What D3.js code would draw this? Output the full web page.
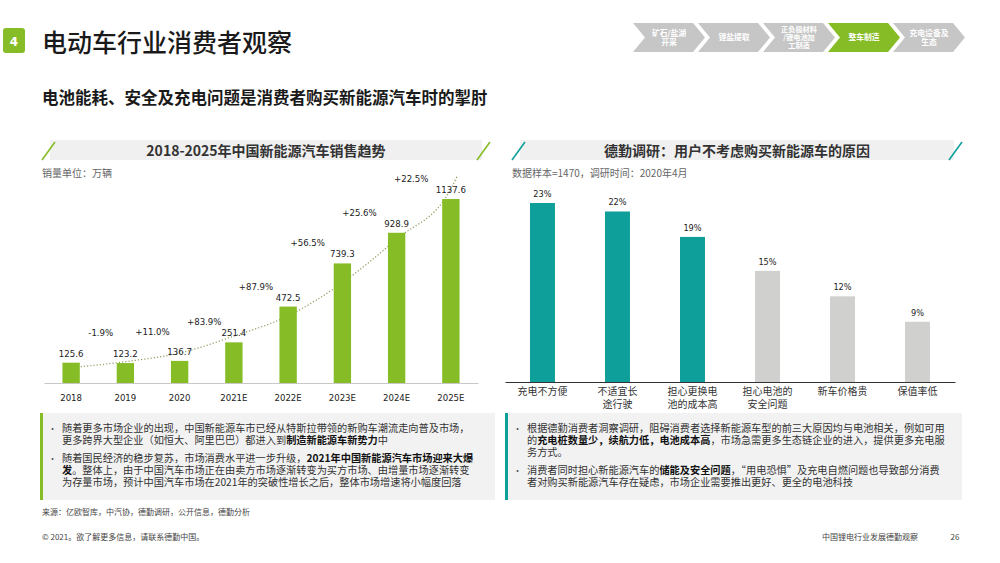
<!DOCTYPE html>
<html><head><meta charset="utf-8">
<script src="https://cdn.jsdelivr.net/npm/d3@7"></script>
<style>body{margin:0;background:#fff} svg{display:block}</style>
</head><body><svg id="c" width="1000" height="563"></svg>
<script>
// ---------- data ----------
const years = ["2018","2019","2020","2021E","2022E","2023E","2024E","2025E"];
const sales = [125.6,123.2,136.7,251.4,472.5,739.3,928.9,1137.6];
const growth = ["-1.9%","+11.0%","+83.9%","+87.9%","+56.5%","+25.6%","+22.5%"];
const trend = [95,132,185,290,415,620,890,1200];
const trendTail = 1275;
const reasons = [["充电不方便"],["不适宜长","途行驶"],["担心更换电","池的成本高"],["担心电池的","安全问题"],["新车价格贵"],["保值率低"]];
const shares = [23,22,19,15,12,9];
const highlighted = [true,true,true,false,false,false];
const steps = [["矿石/盐湖","开采"],["锂盐提取"],["正负极材料","/锂电池加","工制造"],["整车制造"],["充电设备及","生态"]];
const activeStep = 3;
const leftNotes = [
  [[["随着更多市场企业的出现，中国新能源车市已经从特斯拉带领的新购车潮流走向普及市场，",false]],
   [["更多跨界大型企业（如恒大、阿里巴巴）都进入到",false],["制造新能源车新势力",true],["中",false]]],
  [[["随着国民经济的稳步复苏，市场消费水平进一步升级，",false],["2021年中国新能源汽车市场迎来大爆",true]],
   [["发",true],["。整体上，由于中国汽车市场正在由卖方市场逐渐转变为买方市场、由增量市场逐渐转变",false]],
   [["为存量市场，预计中国汽车市场在2021年的突破性增长之后，整体市场增速将小幅度回落",false]]]
];
const rightNotes = [
  [[["根据德勤消费者洞察调研，阻碍消费者选择新能源车型的前三大原因均与电池相关，例如可用",false]],
   [["的",false],["充电桩数量少，续航力低，电池成本高",true],["，市场急需更多生态链企业的进入，提供更多充电服",false]],
   [["务方式。",false]]],
  [[["消费者同时担心新能源汽车的",false],["储能及安全问题",true],["，“用电恐惧”及充电自燃问题也导致部分消费",false]],
   [["者对购买新能源汽车存在疑虑，市场企业需要推出更好、更全的电池科技",false]]]
];

// ---------- style ----------
const CJK = "'Noto Sans CJK SC', 'Noto Sans', sans-serif";
const NUM = "'DejaVu Sans', Verdana, sans-serif";
const GREEN = "#86bc25", TEAL = "#0f9f9b", GREY = "#d0d0ce";

const svg = d3.select("#c");
svg.append("rect").attr("width",1000).attr("height",563).attr("fill","#fff");

// ---------- header ----------
svg.append("rect").attr("x",3).attr("y",28).attr("width",22).attr("height",25).attr("rx",3).attr("fill",GREEN);
svg.append("text").attr("x",14).attr("y",45.5).attr("text-anchor","middle").attr("fill","#fff")
  .attr("font-family",NUM).attr("font-size",12).attr("font-weight","bold").text("4");
svg.append("text").attr("x",42).attr("y",52).attr("font-family",CJK).attr("font-size",25)
  .attr("font-weight",500).attr("fill","#1a1a1a").text("电动车行业消费者观察");
svg.append("text").attr("x",42).attr("y",104).attr("font-family",CJK).attr("font-size",16.5)
  .attr("font-weight","bold").attr("fill","#1a1a1a").text("电池能耗、安全及充电问题是消费者购买新能源汽车时的掣肘");

// chevrons
const chev = svg.append("g");
steps.forEach((lines,i)=>{
  const x0 = 633 + 65*i, y0 = 23, h = 29, w = 72, d = 12;
  chev.append("path")
    .attr("d",`M${x0},${y0}L${x0+w-d},${y0}L${x0+w},${y0+h/2}L${x0+w-d},${y0+h}L${x0},${y0+h}L${x0+d},${y0+h/2}Z`)
    .attr("fill", i===activeStep ? GREEN : "#c6c6c6");
  const fs = lines.length>2 ? 7.2 : 7.8;
  const t = chev.append("text").attr("text-anchor","middle").attr("fill","#fff")
    .attr("font-family",CJK).attr("font-size",fs).attr("font-weight","bold");
  const lh = fs+0.8, cy = y0 + h/2 - (lines.length-1)*lh/2 + fs*0.36;
  lines.forEach((s,j)=> t.append("tspan").attr("x",x0+w/2).attr("y",cy+j*lh).text(s));
});

// ---------- panel titles ----------
function panelTitle(x0,x1,color,title,sub){
  svg.append("rect").attr("x",x0+8).attr("y",140).attr("width",x1-x0-16).attr("height",20).attr("fill","#f0f0f0");
  svg.append("line").attr("x1",x0).attr("y1",160).attr("x2",x0+13).attr("y2",142).attr("stroke",color).attr("stroke-width",1.6);
  svg.append("line").attr("x1",x1-13).attr("y1",160).attr("x2",x1).attr("y2",142).attr("stroke",color).attr("stroke-width",1.6);
  svg.append("text").attr("x",(x0+x1)/2).attr("y",155.5).attr("text-anchor","middle")
    .attr("font-family",CJK).attr("font-size",14).attr("font-weight","bold").attr("fill","#333").text(title);
  svg.append("text").attr("x",x0).attr("y",176.5).attr("font-family",CJK).attr("font-size",10)
    .attr("fill","#666").text(sub);
}
panelTitle(42,490,GREEN,"2018-2025年中国新能源汽车销售趋势","销量单位：万辆");
panelTitle(512,962,TEAL,"德勤调研：用户不考虑购买新能源车的原因","数据样本=1470，调研时间：2020年4月");

// ---------- left chart ----------
const x1 = d3.scaleBand().domain(years).range([44,478]).paddingInner(0.68).paddingOuter(0.34);
const y1 = d3.scaleLinear().domain([0,d3.max(sales)]).range([383,199]);
const bw1 = x1.bandwidth();

const tpts = years.map((yr,i)=>[x1(yr)+bw1/2, y1(trend[i])]);
tpts.push([x1(years[years.length-1])+bw1/2+6, y1(trendTail)]);
svg.append("path").attr("d", d3.line().curve(d3.curveMonotoneX)(tpts))
  .attr("fill","none").attr("stroke","#8f9c5c").attr("stroke-width",1.2).attr("stroke-dasharray","1.2,2");

svg.append("g").selectAll("rect").data(sales).join("rect")
  .attr("x",(d,i)=>x1(years[i])).attr("y",d=>y1(d)).attr("width",bw1).attr("height",d=>y1(0)-y1(d))
  .attr("fill",GREEN);

svg.append("g").selectAll("text").data(sales).join("text")
  .attr("x",(d,i)=>x1(years[i])+bw1/2).attr("y",d=>y1(d)-6).attr("text-anchor","middle")
  .attr("font-family",NUM).attr("font-size",8.6).attr("fill","#222").text(d=>d.toFixed(1));

svg.append("g").selectAll("text").data(growth).join("text")
  .attr("x",(d,k)=>{const i=k+1; return (x1(years[i-1])+x1(years[i]))/2+bw1/2 + 5 - 2.5*i;})
  .attr("y",(d,k)=>{const i=k+1; const a=y1(sales[i-1]), b=y1(sales[i]); return Math.min(b-20,(a+b)/2-30)+3;})
  .attr("text-anchor","middle").attr("font-family",NUM).attr("font-size",8.6).attr("fill","#222").text(d=>d);

const ax1 = svg.append("g").attr("transform","translate(0,383)")
  .call(d3.axisBottom(x1).tickSize(0).tickSizeOuter(0).tickPadding(12));
ax1.select(".domain").attr("stroke","#c8c8c8").attr("stroke-width",1);
ax1.selectAll("text").attr("font-family",NUM).attr("font-size",8.6).attr("fill","#222");

// ---------- right chart ----------
const idx = d3.range(shares.length);
const x2 = d3.scaleBand().domain(idx).range([505,955]).paddingInner(0.667).paddingOuter(0.333);
const y2 = d3.scaleLinear().domain([1.9,d3.max(shares)]).range([382,203]);
const bw2 = x2.bandwidth();

svg.append("g").selectAll("rect").data(shares).join("rect")
  .attr("x",(d,i)=>x2(i)).attr("y",d=>y2(d)).attr("width",bw2).attr("height",d=>382-y2(d))
  .attr("fill",(d,i)=>highlighted[i]?TEAL:GREY);
svg.append("g").selectAll("text").data(shares).join("text")
  .attr("x",(d,i)=>x2(i)+bw2/2).attr("y",d=>y2(d)-6).attr("text-anchor","middle")
  .attr("font-family",NUM).attr("font-size",8.2).attr("fill","#222").text(d=>d+"%");

const ax2 = svg.append("g").attr("transform","translate(0,382)")
  .call(d3.axisBottom(x2).tickSize(0).tickSizeOuter(0).tickFormat(()=>""));
ax2.select(".domain").attr("stroke","#333").attr("stroke-width",1.2);
const cl = svg.append("g");
reasons.forEach((lines,i)=>{
  const t = cl.append("text").attr("text-anchor","middle").attr("font-family",CJK).attr("font-size",10).attr("fill","#333");
  lines.forEach((s,j)=>t.append("tspan").attr("x",x2(i)+bw2/2).attr("y",395+j*12.5).text(s));
});

// ---------- note boxes ----------
function noteBox(x,w,color,notes){
  svg.append("rect").attr("x",x).attr("y",413).attr("width",w).attr("height",87).attr("fill","#f2f2f2");
  svg.append("rect").attr("x",x).attr("y",413).attr("width",3).attr("height",87).attr("fill",color);
  let y = 431.5;
  notes.forEach((para)=>{
    svg.append("text").attr("x",x+8).attr("y",y).attr("font-family",CJK).attr("font-size",9).attr("fill","#555").text("•");
    para.forEach(line=>{
      const t = svg.append("text").attr("x",x+22).attr("y",y).attr("font-family",CJK).attr("font-size",10.2).attr("fill","#333");
      line.forEach(([s,b])=>t.append("tspan").attr("font-weight",b?"bold":"normal").attr("fill",b?"#111":"#333").text(s));
      y += 12.3;
    });
    y += 5.5;
  });
}
noteBox(40,455,GREEN,leftNotes);
noteBox(505,457,TEAL,rightNotes);

// ---------- footer ----------
const ft = (x,y,s,anchor)=>svg.append("text").attr("x",x).attr("y",y).attr("text-anchor",anchor||"start")
  .attr("font-family",CJK).attr("font-size",8).attr("fill","#444").text(s);
ft(42,515,"来源：亿欧智库，中汽协，德勤调研，公开信息，德勤分析");
ft(42,540,"© 2021。欲了解更多信息，请联系德勤中国。");
ft(918,540,"中国锂电行业发展德勤观察","end");
ft(955,540,"26","middle");
</script></body></html>
